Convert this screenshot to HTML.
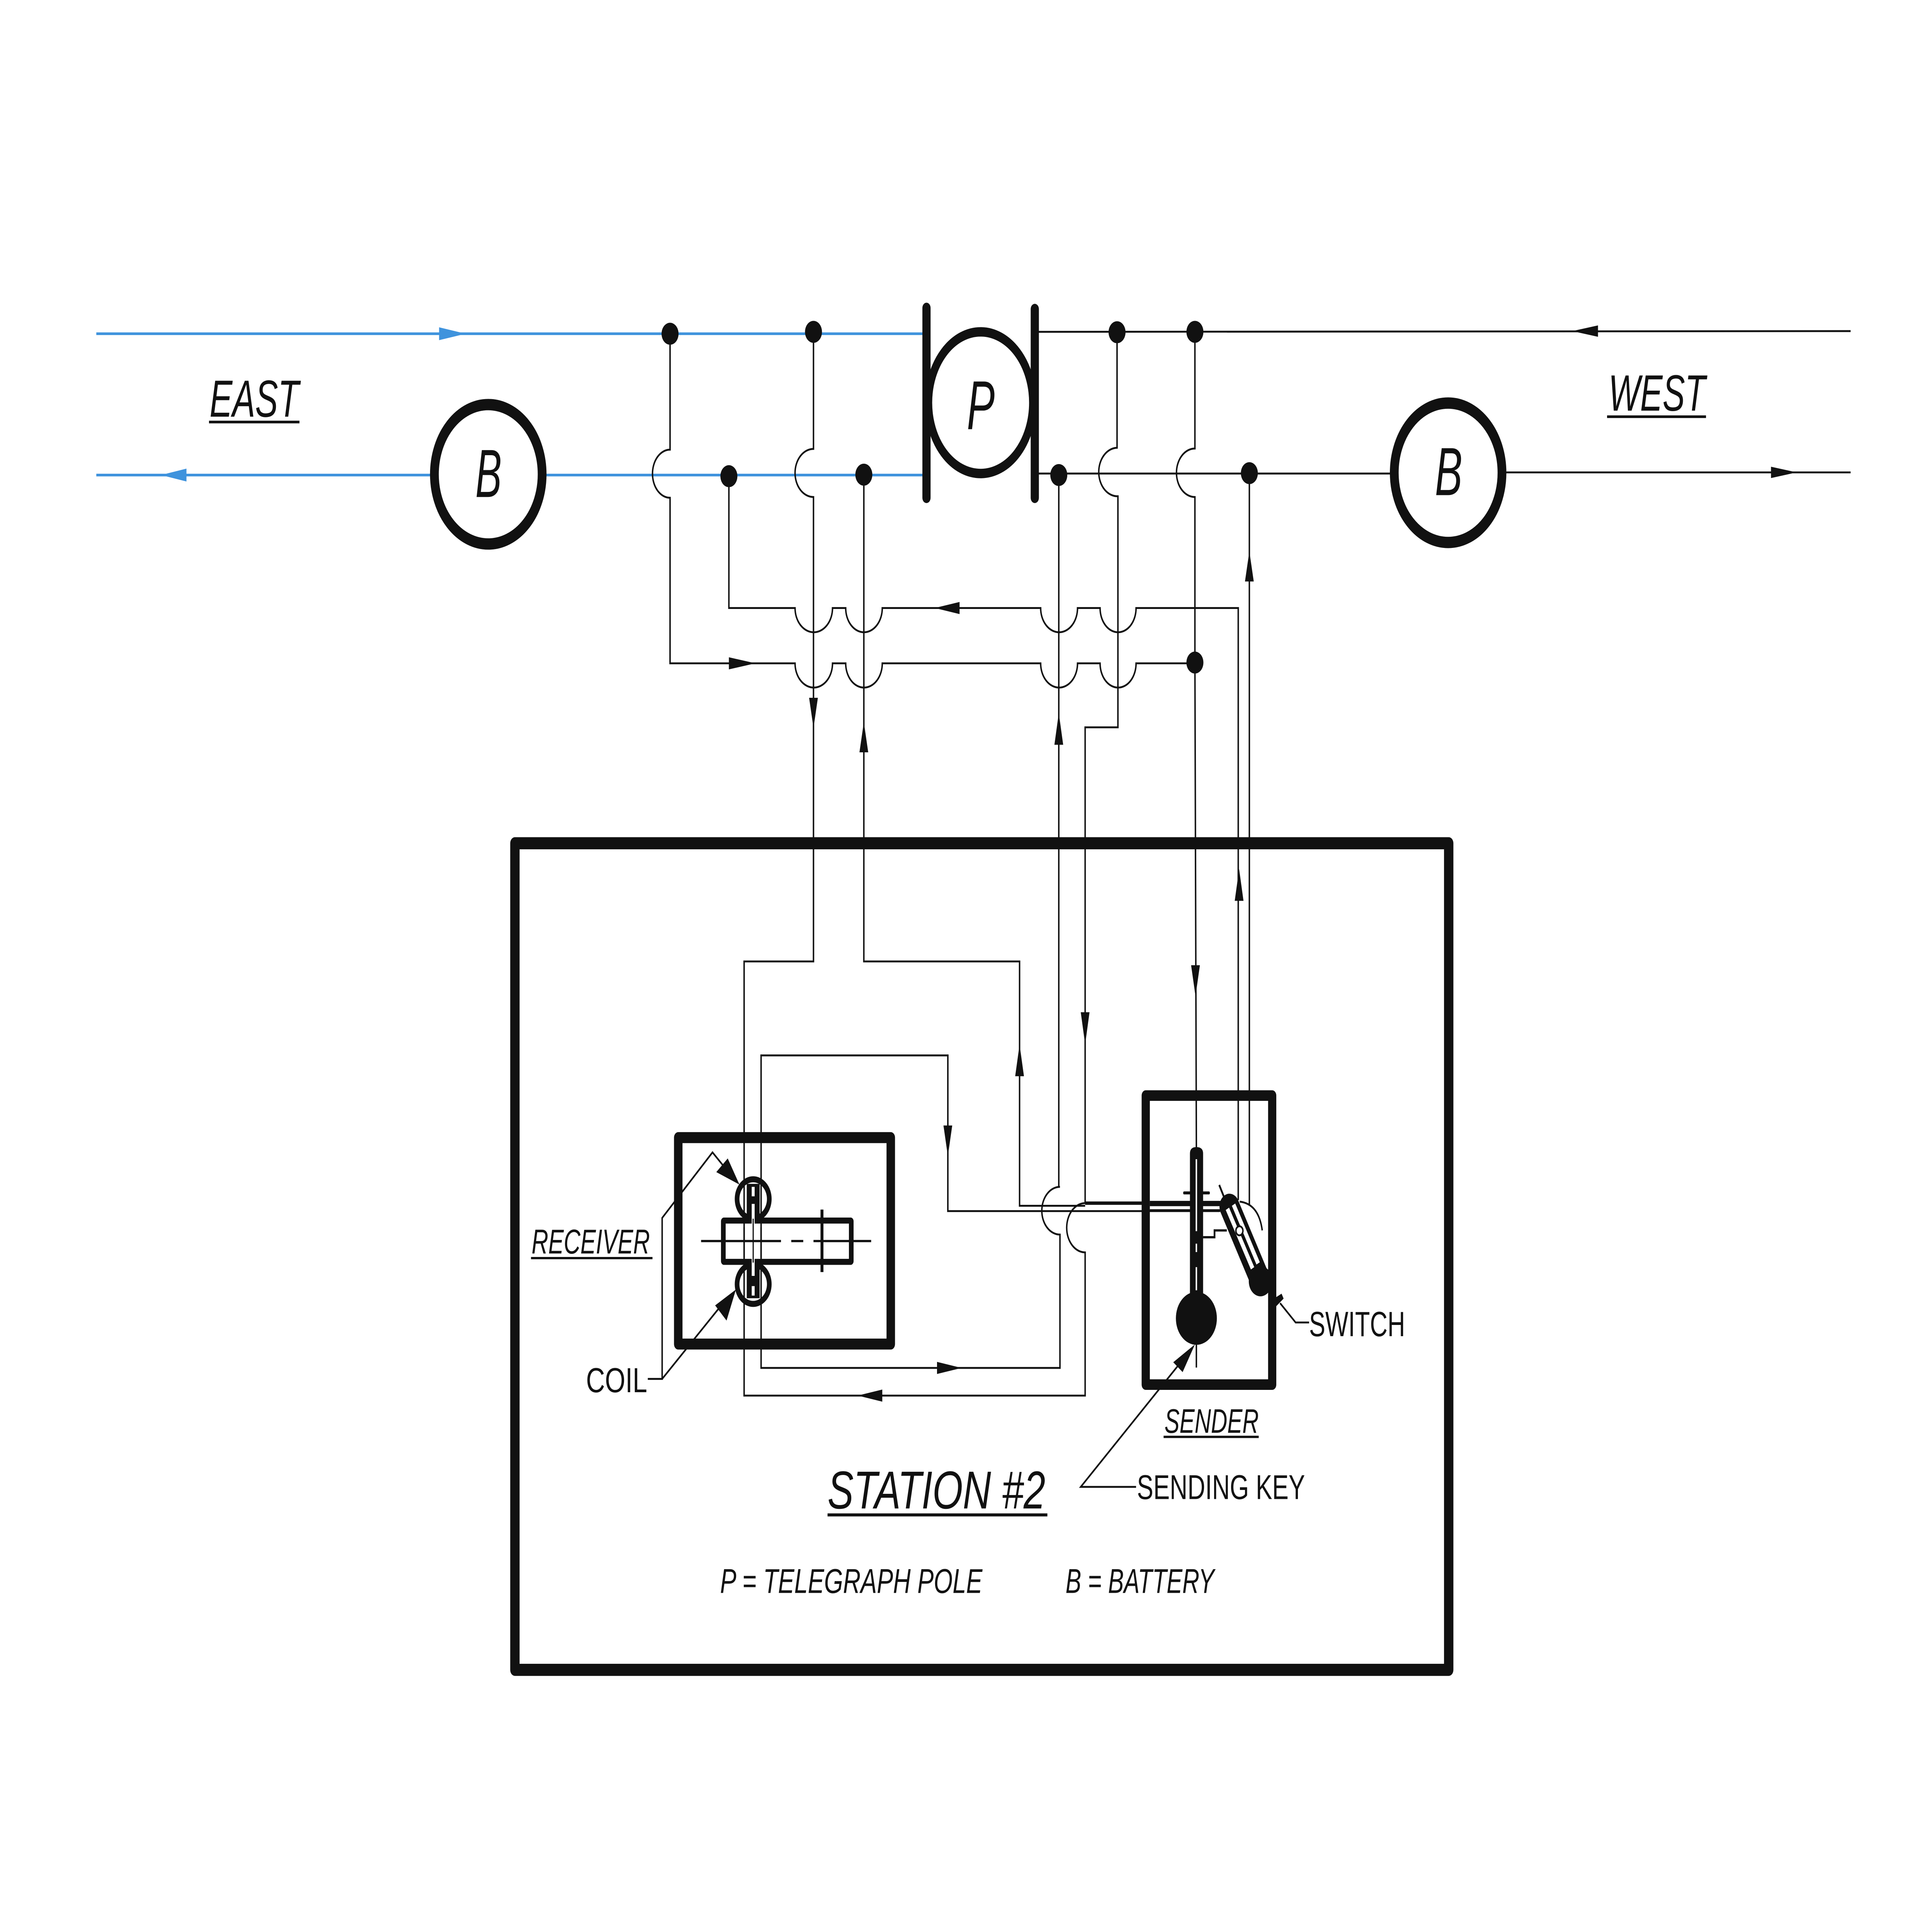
<!DOCTYPE html>
<html><head><meta charset="utf-8"><title>Station #2</title>
<style>html,body{margin:0;padding:0;background:#fff;width:100%;height:100%;overflow:hidden}svg{display:block;width:100vw;height:100vh}
text{font-family:"Liberation Sans",sans-serif;fill:#111}</style></head>
<body>
<svg xmlns="http://www.w3.org/2000/svg" viewBox="0 0 6600 5100" preserveAspectRatio="none">
<rect width="6600" height="5100" fill="#fff"/>
<!-- blue lines -->
<g fill="none" stroke="#3f93dd" stroke-width="7">
<path d="M329 881H3165"/><path d="M329 1254H1475M1865 1254H3165"/>
</g>
<path d="M1591 881L1500 864V898Z" fill="#3f93dd"/>
<path d="M550 1254L637 1237V1271Z" fill="#3f93dd"/>
<!-- thin black network -->
<g fill="none" stroke="#111" stroke-width="5">
<path d="M3535 876L6322 874"/>
<path d="M3535 1250H4750M5146 1247H6322"/>
<path d="M2289 881V1187A60 63.5 0 0 0 2289 1314V1751H2716A64 64 0 0 0 2844 1751H2889A62.5 64 0 0 0 3014 1751H3555A63 64 0 0 0 3681 1751H3758A61.500 64 0 0 0 3881 1751H4082"/>
<path d="M2490 1257V1605H2716A64 64 0 0 0 2844 1605H2889A62.5 64 0 0 0 3014 1605H3555A63 64 0 0 0 3681 1605H3758A61.500 64 0 0 0 3881 1605H4230V3168"/>
<path d="M2779 876V1185A63 63.500 0 0 0 2779 1312V2538H2542V3684H3707V3306A63 65 0 0 1 3707 3176V1920H3819V1310A64 64 0 0 1 3816 1182V877"/>
<path d="M2951 1253V2538H3483V3183H3707"/>
<path d="M3617 1254V3133H3621A62 63 0 0 0 3621 3259V3611H2600V2786H3238V3197H4168"/>
<path d="M4082 876V1184A63 64 0 0 0 4082 1312V1749L4087 3030"/>
<path d="M4268 1249V3181"/>
<path d="M4087 3540V3610"/>
<path d="M2213 3640H2262V3215L2434 3042L2500 3105"/>
<path d="M2262 3640L2470 3440"/>
<path d="M4040 3590L3692 3925H3881"/>
<path d="M4373 3440L4426 3491H4472"/>
</g>
<path d="M3707 3176H3900" stroke="#111" stroke-width="9" fill="none"/>
<!-- arrows -->
<g fill="#111">
<path d="M5371 874L5459 859V889Z"/>
<path d="M6138 1247L6050 1232V1262Z"/>
<path d="M3193 1605L3278 1589V1621Z"/>
<path d="M2581 1751L2490 1735V1767Z"/>
<path d="M2779 1922L2764 1842H2794Z"/>
<path d="M2951 1906L2936 1986H2966Z"/>
<path d="M3617 1882L3602 1966H3632Z"/>
<path d="M4268 1455L4253 1535H4283Z"/>
<path d="M4084 2630L4069 2548H4099Z"/>
<path d="M3707 2757L3692 2672H3722Z"/>
<path d="M3483 2757L3468 2841H3498Z"/>
<path d="M4233 2294L4218 2378H4248Z"/>
<path d="M3238 3052L3223 2971H3253Z"/>
<path d="M3285 3611L3201 3595V3627Z"/>
<path d="M2930 3684L3014 3668V3700Z"/>
<path d="M2526 3127L2447 3094L2486 3058Z"/>
<path d="M2514 3404L2443 3446L2482 3486Z"/>
<path d="M4082 3549L4008 3596L4040 3622Z"/>
</g>
<!-- dots -->
<g fill="#111">
<circle cx="2289" cy="881" r="29"/><circle cx="2779" cy="876" r="29"/>
<circle cx="2490" cy="1257" r="29"/><circle cx="2951" cy="1253" r="29"/>
<circle cx="3816" cy="877" r="29"/><circle cx="4082" cy="876" r="29"/>
<circle cx="3617" cy="1254" r="29"/><circle cx="4268" cy="1249" r="29"/>
<circle cx="4082" cy="1749" r="29"/>
</g>
<!-- batteries & pole -->
<g fill="#fff" stroke="#111" stroke-width="30">
<circle cx="1668" cy="1252" r="184"/>
<circle cx="4947" cy="1248" r="184"/>
<ellipse cx="3350" cy="1063" rx="178" ry="187" stroke-width="25"/>
</g>
<g stroke="#111" stroke-width="28" stroke-linecap="round" fill="none">
<path d="M3165 813V1314"/><path d="M3535 816V1314"/>
</g>
<!-- boxes -->
<g fill="none" stroke="#111" stroke-linejoin="round">
<rect x="1759" y="2226" width="3190" height="2182" stroke-width="32"/>
<rect x="2317" y="3003" width="726" height="545" stroke-width="29"/>
<rect x="3914" y="2892" width="432" height="763" stroke-width="28"/>
</g>
<!-- receiver -->
<g fill="none" stroke="#111">
<ellipse cx="2573" cy="3165" rx="55" ry="52" stroke-width="16"/>
<ellipse cx="2573" cy="3390" rx="55" ry="52" stroke-width="16"/>
<rect x="2471" y="3222" width="437" height="109" stroke-width="16" rx="2"/>
<path d="M2395 3276H2668M2703 3276H2744M2779 3276H2976" stroke-width="6"/>
<path d="M2808 3193V3358" stroke-width="10"/>
</g>
<g fill="#111"><rect x="2551" y="3125" width="44" height="96"/><rect x="2551" y="3332" width="44" height="95"/></g>
<g fill="#fff">
<rect x="2568" y="3133" width="10" height="25"/><rect x="2568" y="3178" width="10" height="62"/>
<rect x="2568" y="3318" width="10" height="50"/><rect x="2568" y="3395" width="10" height="25"/>
</g>
<path d="M2573 3217V3333" stroke="#111" stroke-width="4"/>
<path d="M2542 3240V3320M2600 3240V3320" stroke="#111" stroke-width="5"/>
<!-- sending key -->
<g fill="#111">
<path d="M4065 3045Q4065 3028 4087 3028Q4110 3028 4110 3045V3430H4065Z"/>
<circle cx="4087" cy="3480" r="70"/>
<rect x="4042" y="3145" width="91" height="8" rx="3"/>
<rect x="3928" y="3170" width="272" height="14"/>
<rect x="3928" y="3192" width="250" height="6"/>
</g>
<path d="M4087 3060V3250M4087 3283V3305M4087 3345V3380M4087 3380V3406" stroke="#fff" stroke-width="5" fill="none"/>
<path d="M4110 3266H4149V3248H4191" fill="none" stroke="#111" stroke-width="6"/>
<!-- switch -->
<path d="M4200 3185L4300 3370" stroke="#111" stroke-width="68" stroke-linecap="round" fill="none"/>
<circle cx="4306" cy="3382" r="40" fill="#111"/>
<path d="M4193 3191L4279 3348M4214 3180L4298 3335" stroke="#fff" stroke-width="13" fill="none"/>
<circle cx="4234" cy="3249" r="12" fill="#fff" stroke="#111" stroke-width="5"/>
<path d="M4165 3128L4181 3159" stroke="#111" stroke-width="6"/>
<path d="M4235 3172Q4300 3178 4312 3248" fill="none" stroke="#111" stroke-width="5"/>
<path d="M4348 3430L4378 3415L4385 3428L4360 3448Z" fill="#111"/>
<!-- labels -->
<g>
<text x="716" y="1100" font-size="138" font-style="italic" textLength="305" lengthAdjust="spacingAndGlyphs">EAST</text>
<path d="M714 1114H1023" stroke="#111" stroke-width="7"/>
<text x="5495" y="1084" font-size="135" font-style="italic" textLength="331" lengthAdjust="spacingAndGlyphs">WEST</text>
<path d="M5490 1100H5828" stroke="#111" stroke-width="7"/>
<text x="1624" y="1312" font-size="180" font-style="italic" textLength="90" lengthAdjust="spacingAndGlyphs">B</text>
<text x="4902" y="1307" font-size="180" font-style="italic" textLength="94" lengthAdjust="spacingAndGlyphs">B</text>
<text x="3303" y="1133" font-size="183" font-style="italic" textLength="95" lengthAdjust="spacingAndGlyphs">P</text>
<text x="1816" y="3309" font-size="91" font-style="italic" textLength="404" lengthAdjust="spacingAndGlyphs">RECEIVER</text>
<path d="M1814 3321H2229" stroke="#111" stroke-width="6"/>
<text x="2002" y="3675" font-size="92" textLength="209" lengthAdjust="spacingAndGlyphs">COIL</text>
<text x="4472" y="3527" font-size="93" textLength="328" lengthAdjust="spacingAndGlyphs">SWITCH</text>
<text x="3978" y="3782" font-size="90" font-style="italic" textLength="322" lengthAdjust="spacingAndGlyphs">SENDER</text>
<path d="M3975 3793H4300" stroke="#111" stroke-width="6"/>
<text x="3884" y="3957" font-size="91" textLength="574" lengthAdjust="spacingAndGlyphs">SENDING KEY</text>
<text x="2827" y="3982" font-size="141" font-style="italic" textLength="744" lengthAdjust="spacingAndGlyphs">STATION #2</text>
<path d="M2827 3999H3578" stroke="#111" stroke-width="8"/>
<text x="2460" y="4205" font-size="91" font-style="italic" textLength="896" lengthAdjust="spacingAndGlyphs">P = TELEGRAPH POLE</text>
<text x="3640" y="4205" font-size="91" font-style="italic" textLength="508" lengthAdjust="spacingAndGlyphs">B = BATTERY</text>
</g>
</svg>
</body></html>
